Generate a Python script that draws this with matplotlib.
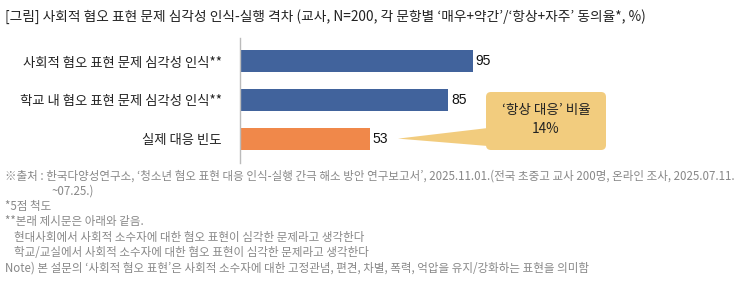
import matplotlib
matplotlib.use("Agg")
import matplotlib.pyplot as plt
from matplotlib.patches import FancyBboxPatch, Polygon

plt.rcParams["font.family"] = ["Noto Sans CJK KR", "DejaVu Sans"]

# data
categories = ["사회적 혐오 표현 문제 심각성 인식**",
              "학교 내 혐오 표현 문제 심각성 인식**",
              "실제 대응 빈도"]
values = [95, 85, 53]
colors = ["#41639c", "#41639c", "#f0884a"]
callout_lines = ["‘항상 대응’ 비율", "14%"]

title = "[그림] 사회적 혐오 표현 문제 심각성 인식-실행 격차 (교사, N=200, 각 문항별 ‘매우+약간’/‘항상+자주’ 동의율*, %)"
notes = [
    (5, "※출처 : 한국다양성연구소, ‘청소년 혐오 표현 대응 인식-실행 간극 해소 방안 연구보고서’, 2025.11.01.(전국 초중고 교사 200명, 온라인 조사, 2025.07.11."),
    (52, "~07.25.)"),
    (5, "*5점 척도"),
    (5, "**본래 제시문은 아래와 같음."),
    (14, "현대사회에서 사회적 소수자에 대한 혐오 표현이 심각한 문제라고 생각한다"),
    (14, "학교/교실에서 사회적 소수자에 대한 혐오 표현이 심각한 문제라고 생각한다"),
    (5, "Note) 본 설문의 ‘사회적 혐오 표현’은 사회적 소수자에 대한 고정관념, 편견, 차별, 폭력, 억압을 유지/강화하는 표현을 의미함"),
]

W, H = 735, 295
fig = plt.figure(figsize=(W / 100, H / 100), dpi=100)
ax = fig.add_axes([240 / W, (H - 163) / H, 490 / W, 125 / H])

y = list(range(len(categories)))
ax.barh(y, values, height=0.57, color=colors)
ax.set_xlim(0, 200)
ax.set_ylim(2.63, -0.6)
ax.set_yticks(y)
ax.set_yticklabels(categories, fontsize=9.6, color="#222222")
ax.tick_params(axis="y", length=0, pad=13)
ax.set_xticks([])
for s in ["top", "right", "bottom"]:
    ax.spines[s].set_visible(False)
ax.spines["left"].set_color("#bbbbbb")
ax.spines["left"].set_linewidth(1)

for yi, v in zip(y, values):
    ax.text(v + 1.2, yi, str(v), va="center", ha="left", fontsize=10,
            color="#111111", family=["Liberation Sans", "DejaVu Sans"])

# callout box (inches)
inch = fig.dpi_scale_trans
bx0, bx1 = 4.86, 6.06
by0, by1 = (H - 150) / 100, (H - 92) / 100
box = FancyBboxPatch((bx0, by0), bx1 - bx0, by1 - by0,
                     boxstyle="round,pad=0,rounding_size=0.05",
                     transform=inch, facecolor="#f2cc7e", edgecolor="none")
fig.patches.append(box)
tip = inch.inverted().transform(ax.transData.transform((values[2] + 11.5, 2)))
tri = Polygon([tip, (bx0 + 0.02, (H - 128) / 100), (bx0 + 0.02, (H - 146) / 100)],
              closed=True, transform=inch, facecolor="#f2cc7e", edgecolor="none")
fig.patches.append(tri)
cx = (bx0 + bx1) / 2
fig.text(cx, (H - 110) / 100, callout_lines[0], transform=inch, ha="center", va="center",
         fontsize=9.8, color="#222222")
fig.text(cx, (H - 129) / 100, callout_lines[1], transform=inch, ha="center", va="center",
         fontsize=9.8, color="#222222")

fig.text(5 / W, 1 - 17 / H, title, ha="left", va="center", fontsize=9.85, color="#222222")

for i, (x, line) in enumerate(notes):
    fig.text(x / W, 1 - (176 + i * 15.3) / H, line, ha="left", va="center",
             fontsize=8.3, color="#888888")

fig.savefig("out.png", dpi=100)
